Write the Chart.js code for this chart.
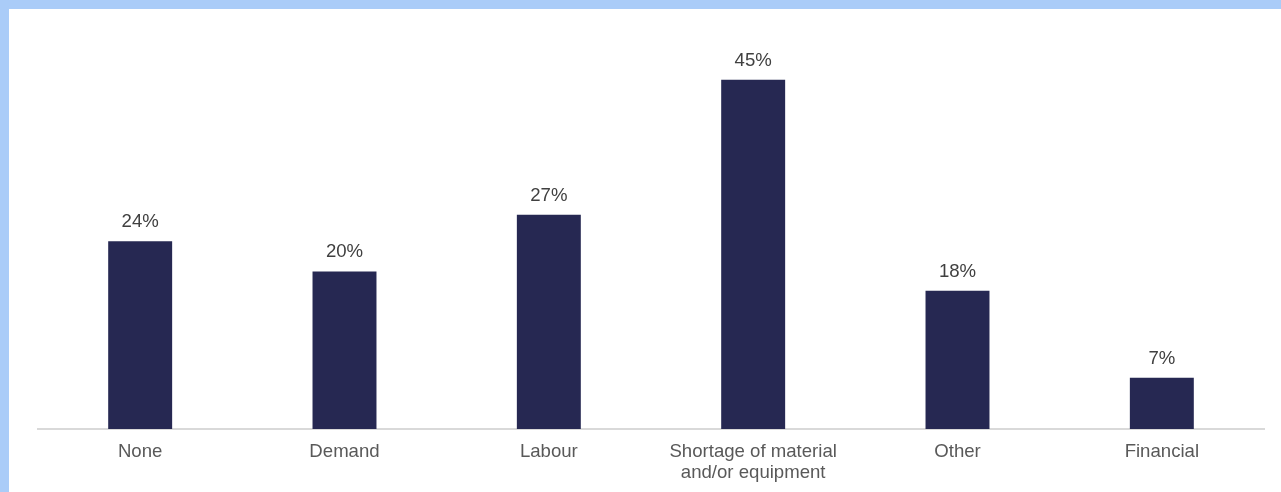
<!DOCTYPE html>
<html lang="en">
<head>
    <meta charset="UTF-8">
    <title>Constraints on business</title>
    <script src="https://cdn.jsdelivr.net/npm/chart.js"></script>
    <style>
        html, body { margin: 0; padding: 0; background: #fff; }
        #frame {
            width: 1272px;
            height: 483px;
            border-top: 9px solid #aaccf8;
            border-left: 9px solid #aaccf8;
            background: #fff;
        }
        canvas { display: block; }
    </style>
</head>
<body>
<div id="frame">
    <canvas id="barChart" width="1272" height="483"></canvas>
</div>
<script>
    // Categories and shares (%) (labels show rounded values)
    const categories = ['None', 'Demand', 'Labour', ['Shortage of material', 'and/or equipment'], 'Other', 'Financial'];
    const shares = [24.2, 20.3, 27.6, 45, 17.8, 6.6];
    const shareLabels = ['24%', '20%', '27%', '45%', '18%', '7%'];

    const fontFamily = "'Liberation Sans', Arial, sans-serif";

    // value labels above every bar
    const valueLabels = {
        id: 'valueLabels',
        afterDatasetsDraw(chart) {
            const ctx = chart.ctx;
            const meta = chart.getDatasetMeta(0);
            ctx.save();
            ctx.font = '18.6px ' + fontFamily;
            ctx.fillStyle = '#404040';
            ctx.textAlign = 'center';
            ctx.textBaseline = 'alphabetic';
            meta.data.forEach((bar, i) => {
                ctx.fillText(shareLabels[i], bar.x, bar.y - 14);
            });
            ctx.restore();
        }
    };

    const ctx = document.getElementById('barChart').getContext('2d');
    const chart = new Chart(ctx, {
        type: 'bar',
        data: {
            labels: categories,
            datasets: [{
                data: shares,
                backgroundColor: '#262852',
                borderWidth: 0,
                categoryPercentage: 1,
                barPercentage: 0.313
            }]
        },
        options: {
            responsive: false,
            animation: false,
            layout: { padding: { left: 29, right: 17, top: 32, bottom: 0 } },
            plugins: {
                legend: { display: false },
                tooltip: { enabled: false }
            },
            scales: {
                x: {
                    grid: { display: false, drawTicks: false },
                    border: { display: true, color: '#d9d9d9', width: 2 },
                    ticks: {
                        color: '#595959',
                        padding: 12,
                        maxRotation: 0,
                        autoSkip: false,
                        font: { family: fontFamily, size: 18.6, lineHeight: 1.15 }
                    },
                    afterFit(scale) { scale.height = 63; }
                },
                y: {
                    display: false,
                    min: 0,
                    max: 50
                }
            }
        },
        plugins: [valueLabels]
    });
</script>
</body>
</html>
